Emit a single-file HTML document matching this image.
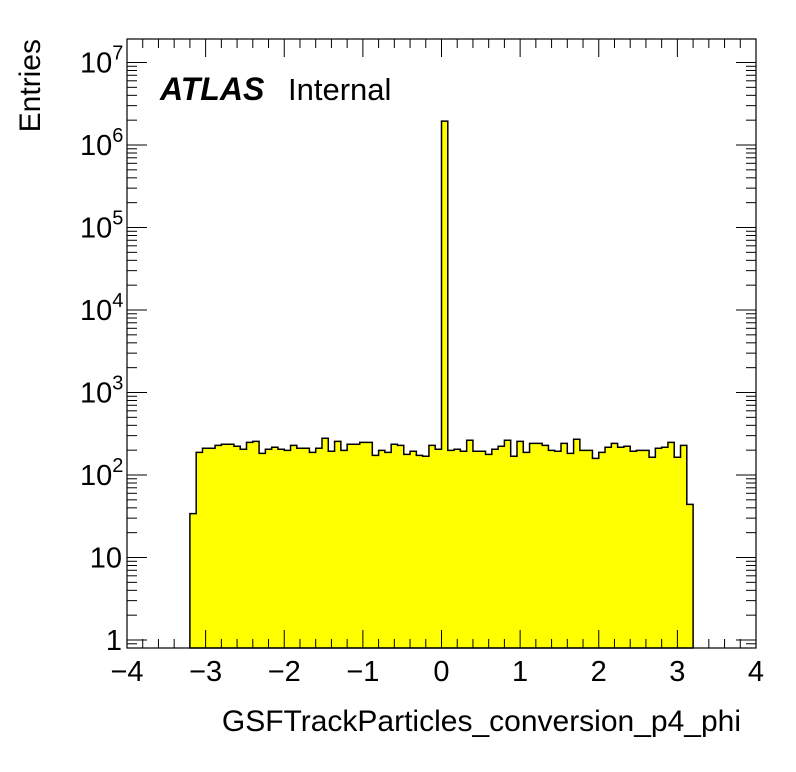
<!DOCTYPE html>
<html><head><meta charset="utf-8"><style>
html,body{margin:0;padding:0;background:#fff;}
svg{display:block;font-family:"Liberation Sans",sans-serif;}
</style></head><body>
<svg id="chart" width="796" height="772" xmlns="http://www.w3.org/2000/svg"></svg>
<script>
const binLow = -3.2;
const binWidth = 0.08;
const counts = [34,188,211,211,229,236,236,223,205,249,256,183,205,217,205,199,229,211,211,188,211,279,194,256,199,236,236,249,249,173,199,188,236,229,178,194,173,169,229,205,
1950000,199,205,194,264,194,194,178,205,223,264,169,256,188,242,242,229,199,194,242,183,271,199,199,159,188,217,242,217,223,194,199,199,164,211,217,249,164,229,44];
const xTicks = [-4,-3,-2,-1,0,1,2,3,4];
const xTickLabels = ["\u22124","\u22123","\u22122","\u22121","0","1","2","3","4"];
const yDecades = [0,1,2,3,4,5,6,7];

const L=127,R=756,T=39,B=648;
const NS="http://www.w3.org/2000/svg";
const svg=document.getElementById('chart');
function X(v){return L+(v+4)/8*(R-L);}
function Y(v){return 640-Math.log10(v)*82.5;}
function el(tag,attrs,parent){const e=document.createElementNS(NS,tag);for(const k in attrs)e.setAttribute(k,attrs[k]);(parent||svg).appendChild(e);return e;}

let d="M"+X(binLow)+","+B;
counts.forEach((c,i)=>{const x0=X(binLow+i*binWidth),x1=X(binLow+(i+1)*binWidth),y=Math.max(T,Y(c));d+=" L"+x0+","+y+" L"+x1+","+y;});
d+=" L"+X(binLow+counts.length*binWidth)+","+B+" Z";
const h=el('path',{d:d,fill:'#ffff00',stroke:'#000','stroke-width':1.5});



const fr=el('rect',{x:L,y:T,width:R-L,height:B-T,fill:'none',stroke:'#000','stroke-width':1.2});



const ticks=el('g',{stroke:'#000','stroke-width':1});


for(let v=-4;v<=4.001;v+=0.2){const x=X(v);const major=Math.abs(v-Math.round(v))<1e-6;const len=major?18:9;
 el('line',{x1:x,y1:B,x2:x,y2:B-len},ticks);el('line',{x1:x,y1:T,x2:x,y2:T+len},ticks);}
for(let dd=-1;dd<=7;dd++){for(let m=1;m<=9;m++){const v=m*Math.pow(10,dd);const y=Y(v);if(y>B||y<T)continue;const len=m==1?20:10;
 el('line',{x1:L,y1:y,x2:L+len,y2:y},ticks);el('line',{x1:R,y1:y,x2:R-len,y2:y},ticks);}}

xTicks.forEach((v,i)=>{const t=el('text',{x:X(v),y:681,'font-size':29,'text-anchor':'middle'});t.textContent=xTickLabels[i];
 
 });
yDecades.forEach(p=>{const y=Y(Math.pow(10,p))+10;const t=el('text',{x:122,y:y,'font-size':29,'text-anchor':'end'});
 if(p==0)t.textContent="1";else if(p==1)t.textContent="10";else{t.textContent="10";const s=el('tspan',{dy:-13,'font-size':20},t);s.textContent=String(p);t.setAttribute('x',80);t.setAttribute('text-anchor','start');}
 
 });

const xt=el('text',{x:741,y:731,'font-size':30,'text-anchor':'end'});xt.textContent="GSFTrackParticles_conversion_p4_phi";


const yt=el('text',{x:0,y:0,'font-size':30,'text-anchor':'end',transform:'translate(40,39) rotate(-90)'});yt.textContent="Entries";


const at=el('text',{x:160,y:100,'font-size':32,'font-weight':'bold','font-style':'italic'});at.textContent="ATLAS";


const it=el('text',{x:288,y:100,'font-size':31});it.textContent="Internal";


</script>
</body></html>
